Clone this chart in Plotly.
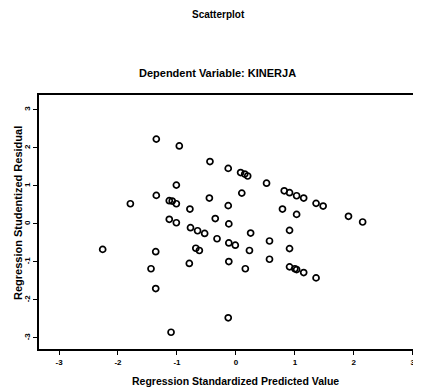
import plotly.graph_objects as go

# Regression Standardized Predicted Value
pred = [-1.35, -0.96, -0.44, -0.13, 0.08, 0.15, 0.20, 0.52, -1.01, -1.35,
        -0.45, 0.10, 0.82, 0.91, 1.03, 1.15, 1.36, 1.48, -1.79, -1.13,
        -1.08, -1.01, -0.78, -0.13, 0.79, 1.03, 1.91, 2.15, -1.13, -1.01,
        -0.35, -0.12, -0.77, -0.65, -0.53, 0.25, 0.91, -0.32, 0.57, -2.26,
        -0.68, -0.62, -0.12, -0.01, -1.36, 0.23, 0.91, 0.57, -0.12, -0.79,
        -1.44, 0.16, 0.91, 1.00, 1.03, 1.15, 1.36, -1.36, -0.13, -1.10]
# Regression Studentized Residual
resid = [2.23, 2.05, 1.64, 1.46, 1.35, 1.31, 1.26, 1.07, 1.02, 0.75,
         0.68, 0.81, 0.87, 0.82, 0.74, 0.68, 0.54, 0.47, 0.53, 0.61,
         0.60, 0.53, 0.39, 0.48, 0.39, 0.25, 0.20, 0.05, 0.12, 0.03,
         0.14, 0.00, -0.10, -0.18, -0.25, -0.24, -0.17, -0.39, -0.45, -0.67,
         -0.64, -0.70, -0.50, -0.56, -0.73, -0.70, -0.65, -0.93, -0.99, -1.04,
         -1.18, -1.18, -1.13, -1.18, -1.20, -1.28, -1.42, -1.70, -2.47, -2.85]

tick_vals = [-3, -2, -1, 0, 1, 2, 3]
tick_text = ["-3", "-2", "-1", "0", "1", "2", "3"]

FONT = "Liberation Sans, Arial, sans-serif"

# page body has an 8px default margin, so the figure is drawn 8px smaller
OFF = 8
W, H = 421 - OFF, 391 - OFF
L, R, T, B = 39 - OFF, 0, 95 - OFF, H - (349 - OFF)

fig = go.Figure()
fig.add_trace(go.Scatter(
    x=pred, y=resid, mode="markers",
    marker=dict(symbol="circle-open", size=6, color="black", line=dict(width=1.7, color="black")),
    hoverinfo="x+y", showlegend=False,
))

fig.update_layout(
    width=W, height=H,
    margin=dict(l=L, r=R, t=T, b=B, autoexpand=False),
    paper_bgcolor="white", plot_bgcolor="white",
    font=dict(family=FONT, color="black"),
    xaxis=dict(
        range=[-3.34, 3.14], tickvals=tick_vals, ticktext=tick_text,
        showgrid=False, zeroline=False, showline=True, linecolor="black", linewidth=2,
        mirror=True, ticks="outside", ticklen=4, tickwidth=1.2, tickcolor="black",
        tickfont=dict(family=FONT, size=8, color="black", weight="bold"),
    ),
    yaxis=dict(
        range=[-3.29, 3.39], tickvals=tick_vals, ticktext=tick_text,
        showgrid=False, zeroline=False, showline=True, linecolor="black", linewidth=1.5,
        mirror=False, ticks="outside", ticklen=4, tickwidth=1.2, tickcolor="black",
        tickangle=-90,
        tickfont=dict(family=FONT, size=8, color="black", weight="bold"),
    ),
)

# annotations placed by reference pixel position (x from left, y from top)
labels = [
    ("<b>Scatterplot</b>", 218, 15, 10, 0),
    ("<b>Dependent Variable: KINERJA</b>", 217, 73, 11, 0),
    ("<b>Regression Standardized Predicted Value</b>", 236, 381, 10.5, 0),
    ("<b>Regression Studentized Residual</b>", 18, 213, 11, -90),
]
pw = W - L - R
ph = H - T - B
for text, px, py, size, ang in labels:
    fx = (px - OFF)
    fy = (py - OFF)
    fig.add_annotation(
        text=text, showarrow=False, xref="paper", yref="paper",
        x=(fx - L) / pw, y=(H - fy - B) / ph,
        xanchor="center", yanchor="middle", textangle=ang,
        font=dict(size=size, family=FONT, color="black"),
    )

fig.write_html("out.html")
